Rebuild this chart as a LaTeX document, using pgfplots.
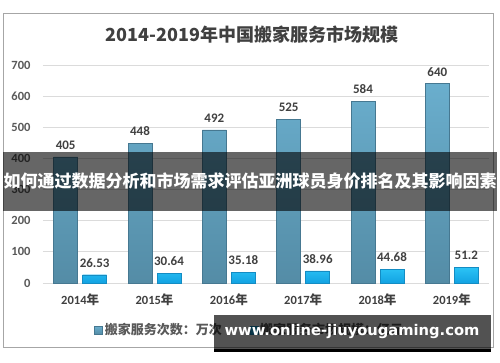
\documentclass[border=0pt]{standalone}
\usepackage{fontspec}
\setmainfont{Carlito}
\newfontfamily\cjk{Noto Sans CJK SC}
\newfontfamily\wm{DejaVu Sans}
\usepackage{pgfplots}
\pgfplotsset{compat=1.18}
\definecolor{txt}{HTML}{404040}
\definecolor{tick}{HTML}{595959}
\definecolor{bluetop}{RGB}{106,174,205}
\definecolor{bluebot}{RGB}{84,140,166}
\definecolor{blueedge}{RGB}{70,120,145}
\definecolor{cyantop}{RGB}{44,196,246}
\definecolor{cyanbot}{RGB}{18,162,226}
\definecolor{cyanedge}{RGB}{20,140,195}
\begin{document}
\begin{tikzpicture}[x=1pt,y=1pt]
\path[use as bounding box] (0,0) rectangle (500,362);
\fill[white] (0,0) rectangle (500,362);
\draw[gray!70, line width=0.9pt] (3,15) rectangle (493,349);
\node[font=\cjk\bfseries\fontsize{18}{18}\selectfont, text=txt] at (252,327) {2014-2019年中国搬家服务市场规模};
\begin{axis}[
  at={(43pt,79pt)}, anchor=south west,
  scale only axis, width=446pt, height=218pt,
  xmin=-0.5, xmax=5.5, ymin=0, ymax=700,
  ytick={0,100,...,700},
  xtick={0,1,2,3,4,5},
  xticklabels={{2014{\cjk 年}},{2015{\cjk 年}},{2016{\cjk 年}},{2017{\cjk 年}},{2018{\cjk 年}},{2019{\cjk 年}}},
  axis line style={draw=none},
  major tick length=0pt,
  ymajorgrids, grid style={gray!28, line width=0.8pt},
  /pgf/number format/assume math mode=true,
  yticklabel style={font=\bfseries\fontsize{12.5}{12.5}\selectfont, text=tick, xshift=-9pt},
  xticklabel style={font=\bfseries\fontsize{12.5}{12.5}\selectfont, text=txt, yshift=-7pt},
  ybar=5pt, bar width=24pt,
  clip=false,
  nodes near coords,
  every node near coord/.append style={font=\bfseries\fontsize{13}{13}\selectfont, text=txt, yshift=4pt},
  legend style={at={(rel axis cs:0.108,-0.216)}, anchor=west, draw=none, fill=none,
    legend columns=2, font=\cjk\bfseries\fontsize{13}{13}\selectfont, text=tick,
    /tikz/every even column/.append style={column sep=26pt}},
  legend image code/.code={\fill[#1] (0pt,-4pt) rectangle (8pt,4pt);},
]
\addplot[draw=blueedge, line width=0.4pt, top color=bluetop, bottom color=bluebot] coordinates {(0,405) (1,448) (2,492) (3,525) (4,584) (5,640)};
\addlegendentry{搬家服务次数：万次}
\addplot[draw=cyanedge, line width=0.4pt, top color=cyantop, bottom color=cyanbot] coordinates {(0,26.53) (1,30.64) (2,35.18) (3,38.96) (4,44.68) (5,51.2)};
\addlegendentry{搬家服务市场规模：亿元}
\end{axis}
\fill[black, opacity=0.6] (3,151) rectangle (497,210);
\node[font=\cjk\bfseries\fontsize{17}{17}\selectfont, text=white] at (250,181) {如何通过数据分析和市场需求评估亚洲球员身价排名及其影响因素};
\fill[black, opacity=0.68] (214,13) rectangle (491,47);
\fill[black] (214,10) rectangle (491,13);
\node[font=\wm\bfseries\fontsize{14.7}{14.7}\selectfont, text=white] at (352,31) {www.online-jiuyougaming.com};
\end{tikzpicture}
\end{document}
